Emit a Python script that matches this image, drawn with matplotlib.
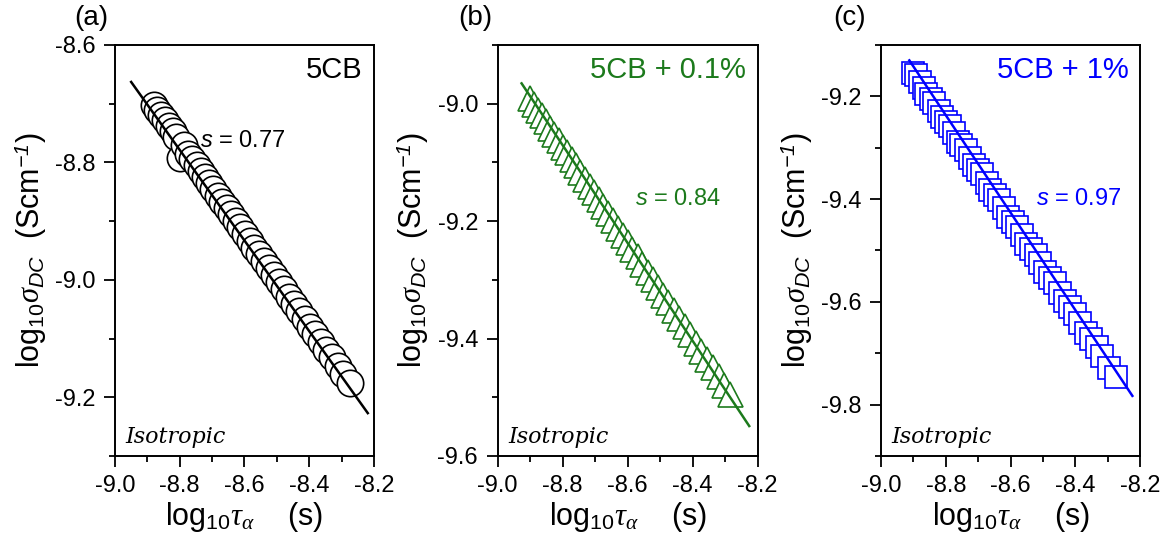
import matplotlib
matplotlib.use("Agg")
import matplotlib.pyplot as plt
from matplotlib.ticker import MultipleLocator

plt.rcParams["font.family"] = ["Liberation Sans", "DejaVu Sans"]
plt.rcParams["mathtext.fontset"] = "custom"
plt.rcParams["mathtext.rm"] = "Liberation Sans"
plt.rcParams["mathtext.it"] = "Liberation Serif:italic"
plt.rcParams["mathtext.sf"] = "Liberation Sans:italic"

# ── Data ──────────────────────────────────────────────────────────────────
# (a) 5CB
tau_a = [-8.880, -8.869, -8.857, -8.846, -8.834, -8.822, -8.810, -8.798,
         -8.786, -8.773, -8.761, -8.748, -8.735, -8.722, -8.709, -8.696,
         -8.682, -8.669, -8.655, -8.641, -8.627, -8.613, -8.598, -8.584,
         -8.569, -8.554, -8.539, -8.524, -8.509, -8.493, -8.478, -8.462,
         -8.446, -8.430, -8.414, -8.397, -8.381, -8.364, -8.347, -8.330,
         -8.312, -8.295, -8.274]
sig_a = [-8.7015, -8.7101, -8.7195, -8.7281, -8.7375, -8.7469, -8.7563, -8.7920,
         -8.7700, -8.7853, -8.7947, -8.8049, -8.8150, -8.8252, -8.8354, -8.8456,
         -8.8565, -8.8667, -8.8777, -8.8886, -8.8996, -8.9106, -8.9223, -8.9333,
         -8.9450, -8.9568, -8.9685, -8.9802, -8.9920, -9.0045, -9.0163, -9.0288,
         -9.0413, -9.0539, -9.0664, -9.0797, -9.0922, -9.1055, -9.1188, -9.1322,
         -9.1462, -9.1596, -9.1760]
fit_a_x = [-8.950, -8.219]
fit_a_y = [-8.663, -9.227]

# (b) 5CB + 0.1%
tau_b = [-8.900, -8.888, -8.876, -8.863, -8.851, -8.838, -8.825, -8.812,
         -8.799, -8.786, -8.772, -8.759, -8.745, -8.731, -8.717, -8.703,
         -8.689, -8.674, -8.660, -8.645, -8.630, -8.615, -8.600, -8.585,
         -8.569, -8.554, -8.538, -8.522, -8.506, -8.490, -8.474, -8.457,
         -8.441, -8.424, -8.407, -8.390, -8.373, -8.355, -8.338, -8.320,
         -8.302, -8.284]
sig_b = [-8.990, -9.000, -9.010, -9.020, -9.030, -9.041, -9.051, -9.062,
         -9.073, -9.083, -9.095, -9.105, -9.117, -9.128, -9.140, -9.151,
         -9.162, -9.175, -9.186, -9.198, -9.211, -9.223, -9.235, -9.247,
         -9.260, -9.273, -9.286, -9.299, -9.312, -9.325, -9.338, -9.352,
         -9.365, -9.379, -9.393, -9.407, -9.421, -9.435, -9.449, -9.464,
         -9.479, -9.494]
fit_b_x = [-8.926, -8.2256]
fit_b_y = [-8.9654, -9.549]

# (c) 5CB + 1%
tau_c = [-8.900, -8.893, -8.881, -8.868, -8.860, -8.846, -8.835, -8.822,
         -8.812, -8.799, -8.787, -8.776, -8.762, -8.752, -8.738, -8.725,
         -8.714, -8.700, -8.688, -8.674, -8.662, -8.648, -8.635, -8.621,
         -8.608, -8.593, -8.580, -8.566, -8.551, -8.538, -8.522, -8.508,
         -8.494, -8.478, -8.464, -8.448, -8.433, -8.417, -8.401, -8.385,
         -8.368, -8.352, -8.334, -8.317, -8.297, -8.275]
sig_c = [-9.154, -9.158, -9.172, -9.184, -9.195, -9.205, -9.213, -9.228,
         -9.240, -9.250, -9.258, -9.271, -9.288, -9.294, -9.304, -9.320,
         -9.333, -9.343, -9.352, -9.368, -9.382, -9.393, -9.402, -9.418,
         -9.434, -9.445, -9.454, -9.470, -9.488, -9.497, -9.509, -9.525,
         -9.541, -9.554, -9.564, -9.582, -9.599, -9.611, -9.624, -9.642,
         -9.661, -9.673, -9.687, -9.706, -9.728, -9.746]
fit_c_x = [-8.9125, -8.2235]
fit_c_y = [-9.130, -9.783]

GREEN = "#1c7a1c"
BLUE = "#0000ff"

panels = [
    dict(tag="(a)", name="5CB", s="0.77", color="black", marker="o", ms=19,
         x=tau_a, y=sig_a, fx=fit_a_x, fy=fit_a_y, ylim=(-9.3, -8.6),
         pos=[0.0986, 0.1664, 0.2221, 0.7514], s_xy=(0.328, 0.766), tag_x=91),
    dict(tag="(b)", name="5CB + 0.1%", s="0.84", color=GREEN, marker="^", ms=18,
         x=tau_b, y=sig_b, fx=fit_b_x, fy=fit_b_y, ylim=(-9.6, -8.9),
         pos=[0.4267, 0.1664, 0.2230, 0.7514], s_xy=(0.529, 0.625), tag_x=475),
    dict(tag="(c)", name="5CB + 1%", s="0.97", color=BLUE, marker="s", ms=16,
         x=tau_c, y=sig_c, fx=fit_c_x, fy=fit_c_y, ylim=(-9.9, -9.1),
         pos=[0.7556, 0.1664, 0.2221, 0.7514], s_xy=(0.598, 0.625), tag_x=850),
]

fig = plt.figure(figsize=(11.66, 5.47), dpi=100)

for p in panels:
    ax = fig.add_axes(p["pos"])
    ax.plot(p["x"], p["y"], linestyle="none", marker=p["marker"], ms=p["ms"],
            mfc="white", mec=p["color"], mew=1.2, zorder=2)
    ax.plot(p["fx"], p["fy"], color=p["color"], lw=1.8, zorder=3)

    ax.set_xlim(-9.0, -8.2)
    ax.set_ylim(*p["ylim"])
    ax.xaxis.set_major_locator(MultipleLocator(0.2))
    ax.xaxis.set_minor_locator(MultipleLocator(0.1))
    ax.yaxis.set_major_locator(MultipleLocator(0.2))
    ax.yaxis.set_minor_locator(MultipleLocator(0.1))
    ax.xaxis.set_major_formatter(lambda v, pos: f"{v:.1f}")
    ax.yaxis.set_major_formatter(lambda v, pos: f"{v:.1f}")
    ax.tick_params(which="major", direction="out", length=8, width=1.3,
                   labelsize=17, pad=6)
    ax.tick_params(which="minor", direction="out", length=4, width=1.3)
    for sp in ax.spines.values():
        sp.set_linewidth(1.4)

    ax.set_xlabel(r"log$_{10}$$\tau_{\alpha}$    (s)", fontsize=22, labelpad=2)
    ax.set_ylabel(r"log$_{10}$$\sigma_{\mathsf{DC}}$  (Scm$^{\mathsf{-1}}$)",
                  fontsize=22)
    ax.yaxis.set_label_coords(-0.255, 0.5)

    ax.text(0.955, 0.94, p["name"], transform=ax.transAxes, ha="right",
            va="center", fontsize=21, color=p["color"])
    ax.text(p["s_xy"][0], p["s_xy"][1], r"$\mathsf{s}$ = " + p["s"],
            transform=ax.transAxes, ha="left", va="center", fontsize=17,
            color=p["color"])
    ax.text(0.04, 0.045, "Isotropic", transform=ax.transAxes, ha="left",
            va="center", fontsize=16, style="italic", family="DejaVu Serif")

    fig.text(p["tag_x"] / 1166, 1 - 18 / 547, p["tag"], ha="center",
             va="center", fontsize=20)

fig.savefig("out.png", dpi=100)
